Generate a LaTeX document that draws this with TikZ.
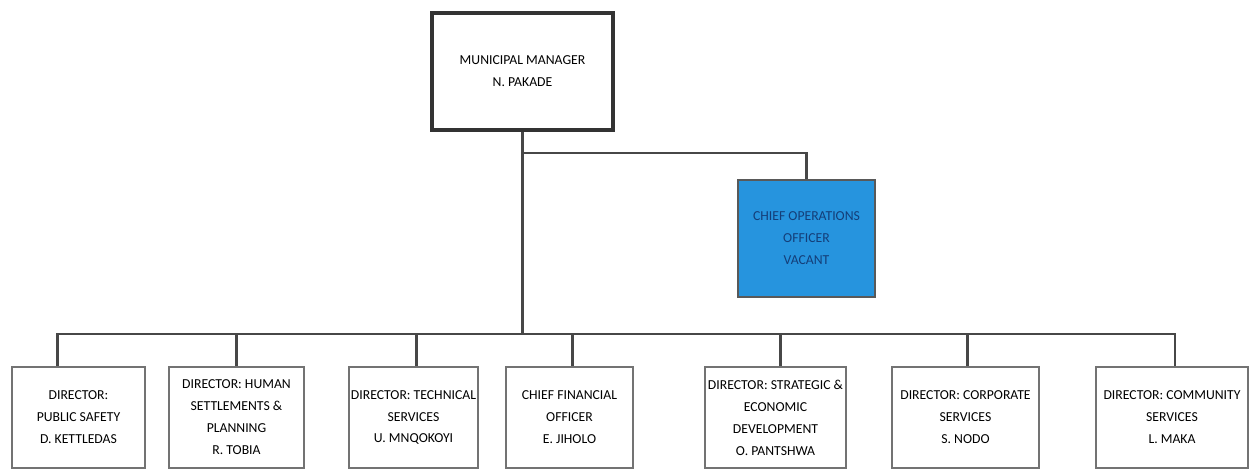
\documentclass[tikz,border=0pt]{standalone}
\usepackage{fontspec}
\setmainfont{Carlito}
\definecolor{cooblue}{RGB}{38,148,222}
\definecolor{cootext}{RGB}{20,62,120}
\begin{document}
\begin{tikzpicture}[x=0.02cm,y=-0.02cm,
        post/.style={draw=black!55, line width=1.4pt, fill=white, align=center,
            font=\fontsize{7.8}{12.5}\selectfont, inner sep=1pt},
        link/.style={draw=black!72, line width=1.6pt}]
    \useasboundingbox (0,0) rectangle (1258,472);
    % top
    \node[post, draw=black!80, line width=2.8pt, minimum width=181*0.02cm, minimum height=117*0.02cm]
        (mm) at (522.5,71.5) {MUNICIPAL MANAGER\\N. PAKADE};
    \node[post, draw=black!65, fill=cooblue, text=cootext, minimum width=137*0.02cm, minimum height=117*0.02cm]
        (coo) at (806.5,238.5) {CHIEF OPERATIONS\\OFFICER\\VACANT};
    % directors
    \foreach \name/\cx/\w/\dx/\txt in {
            b1/78.5/133/-21/{DIRECTOR:\\PUBLIC SAFETY\\D. KETTLEDAS},
            b2/236.5/135/0/{DIRECTOR: HUMAN\\SETTLEMENTS \&\\PLANNING\\R. TOBIA},
            b3/413.5/129/3/{DIRECTOR: TECHNICAL\\SERVICES\\U. MNQOKOYI},
            b4/569.5/127/3/{CHIEF FINANCIAL\\OFFICER\\E. JIHOLO},
            b5/775.5/141/5/{DIRECTOR: STRATEGIC \&\\ECONOMIC\\DEVELOPMENT\\O. PANTSHWA},
            b6/965.5/147/2/{DIRECTOR: CORPORATE\\SERVICES\\S. NODO},
            b7/1172/152/3/{DIRECTOR: COMMUNITY\\SERVICES\\L. MAKA}} {
        \node[post, minimum width=\w*0.02cm, minimum height=101*0.02cm] (\name) at (\cx,417.5) {\txt};
    }
    \coordinate (split) at (522.5,153);
    \coordinate (bus) at (522.5,334);
    \draw[link] (mm.south) -- (bus);
    \draw[link] (split) -| (coo.north);
    \foreach \name/\dx in {b1/-21,b2/0,b3/3,b4/3,b5/5,b6/2,b7/3} {
        \draw[link] (bus) -| ([xshift=\dx*0.02cm]\name.north);
    }
\end{tikzpicture}
\end{document}
